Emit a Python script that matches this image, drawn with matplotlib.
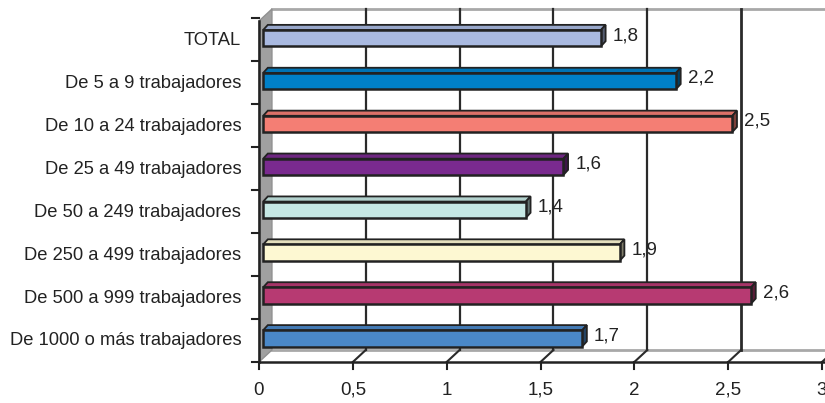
import numpy as np
import matplotlib.pyplot as plt
from matplotlib.patches import Polygon
from matplotlib import colors as mcolors

plt.rcParams['font.family'] = ['Liberation Sans Narrow', 'Liberation Sans', 'DejaVu Sans']

# data
categories = ['TOTAL', 'De 5 a 9 trabajadores', 'De 10 a 24 trabajadores',
              'De 25 a 49 trabajadores', 'De 50 a 249 trabajadores',
              'De 250 a 499 trabajadores', 'De 500 a 999 trabajadores',
              'De 1000 o más trabajadores']
values = [1.8, 2.2, 2.5, 1.6, 1.4, 1.9, 2.6, 1.7]
value_labels = ['1,8', '2,2', '2,5', '1,6', '1,4', '1,9', '2,6', '1,7']
bar_colors = ['#a9b9e0', '#0080c8', '#f47e74', '#7a2a8f',
              '#c6e8e4', '#fdf8d2', '#b73a72', '#4a88c8']
xticks = [0, 0.5, 1, 1.5, 2, 2.5, 3]
xtick_labels = ['0', '0,5', '1', '1,5', '2', '2,5', '3']

W, H = 825, 403
fig = plt.figure(figsize=(W / 100, H / 100), dpi=100)
# plot area: x 259..822 px, y 9..362 px
ax = fig.add_axes([259 / W, (H - 362) / H, (822 - 259) / W, (362 - 9) / H])
ax.set_xlim(0, 3)
ax.set_ylim(7.51, -0.72)
ax.axis('off')

# fake 3d depth (data units)
DX, DY = 0.069, -0.28
ybot = 7.51
ytop_back = -0.72
ytop_front = ytop_back - DY

# back wall + grid
ax.add_patch(Polygon([(DX, ybot + DY), (3 + DX, ybot + DY), (3 + DX, ytop_back), (DX, ytop_back)],
                     closed=True, facecolor='white', edgecolor='none', clip_on=False, zorder=0))
ax.plot([DX, 3.2], [ytop_back, ytop_back], color='#a8a8a8', lw=2, clip_on=False, zorder=1)
ax.plot([DX, 3.2], [ybot + DY, ybot + DY], color='#a8a8a8', lw=2, clip_on=False, zorder=1)
for x in xticks[1:]:
    ax.plot([x + DX, x + DX], [ybot + DY, ytop_back], color='#2a2a2a',
            lw=1.6 if x < 2.5 else 2, clip_on=False, zorder=1)
    ax.plot([x, x + DX], [ybot, ybot + DY], color='#2a2a2a', lw=1.5, clip_on=False, zorder=1)

# left wall
ax.add_patch(Polygon([(0, ybot), (0, ytop_front), (DX, ytop_back), (DX, ybot + DY)],
                     closed=True, facecolor='#a0a0a0', edgecolor='#909090', lw=1, clip_on=False, zorder=1))

# axis lines and ticks
ax.plot([0, 3.2], [ybot, ybot], color='#222222', lw=1.8, clip_on=False, zorder=5)
ax.plot([0, 0], [ytop_front, ybot], color='#222222', lw=1.8, clip_on=False, zorder=5)
tick_len_x = 7 / 187.67
tick_len_y = 7 / 42.86
for x, lab in zip(xticks, xtick_labels):
    ax.plot([x, x], [ybot, ybot + tick_len_y], color='#222222', lw=1.5, clip_on=False, zorder=5)
    ax.text(x, ybot + 0.66, lab, ha='center', va='center', fontsize=13.5, color='#222222')
for i in range(len(categories) + 1):
    ax.plot([-tick_len_x, 0], [i - 0.5, i - 0.5], color='#222222', lw=1.5, clip_on=False, zorder=5)

# bars
off = 0.022
h = 0.38
bdx, bdy = 0.025, -0.12
for i, (v, c, lab, cat) in enumerate(zip(values, bar_colors, value_labels, categories)):
    base = np.array(mcolors.to_rgb(c))
    top_c = base * 0.9
    side_c = base * 0.5
    x0, x1 = off, v + off
    y0, y1 = i - 0.04 - h / 2, i - 0.04 + h / 2
    ax.add_patch(Polygon([(x0, y0), (x1, y0), (x1 + bdx, y0 + bdy), (x0 + bdx, y0 + bdy)],
                         closed=True, facecolor=top_c, edgecolor='#222222', lw=1.3, zorder=3, clip_on=False))
    ax.add_patch(Polygon([(x1, y0), (x1, y1), (x1 + bdx, y1 + bdy), (x1 + bdx, y0 + bdy)],
                         closed=True, facecolor=side_c, edgecolor='#222222', lw=1.3, zorder=3, clip_on=False))
    ax.add_patch(Polygon([(x0, y0), (x1, y0), (x1, y1), (x0, y1)],
                         closed=True, facecolor=c, edgecolor='#222222', lw=1.8, zorder=4, clip_on=False))
    ax.text(v + 0.085, i - 0.1, lab, ha='left', va='center', fontsize=13.5, color='#222222', zorder=6)
    ax.text(-0.095, i + 0.02, cat, ha='right', va='center', fontsize=13.2, color='#222222')

fig.savefig('out.png', dpi=100)
